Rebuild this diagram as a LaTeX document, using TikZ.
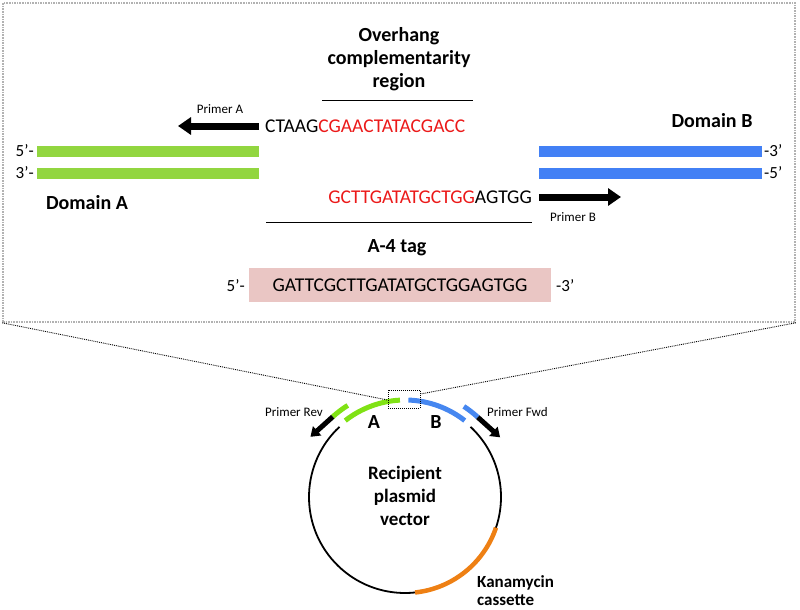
\documentclass[tikz,border=0pt]{standalone}
\usepackage{fontspec}
\setmainfont{Carlito}
\usetikzlibrary{arrows.meta,calc}
\definecolor{barGreen}{RGB}{146,214,64}
\definecolor{barBlue}{RGB}{66,128,245}
\definecolor{arcGreen}{RGB}{128,226,20}
\definecolor{arcBlue}{RGB}{70,135,240}
\definecolor{kanOrange}{RGB}{238,128,20}
\definecolor{seqRed}{RGB}{235,25,25}
\definecolor{tagPink}{RGB}{234,198,196}
\begin{document}
\begin{tikzpicture}[x=1pt,y=-1pt,
  bigbold/.style={font=\fontsize{20}{23}\selectfont\bfseries, align=center, inner sep=0pt},
  midbold/.style={font=\fontsize{17}{18}\selectfont\bfseries, align=left, inner sep=0pt},
  seq/.style={font=\fontsize{19.5}{22}\selectfont, inner sep=0pt},
  smalllbl/.style={font=\fontsize{13}{15}\selectfont, inner sep=0pt},
  endlbl/.style={font=\fontsize{17}{20}\selectfont, inner sep=0pt},
  greenbar/.style={fill=barGreen, minimum width=222pt, minimum height=11pt, inner sep=0pt},
  bluebar/.style={fill=barBlue, minimum width=223pt, minimum height=11pt, inner sep=0pt},
  fatarrow/.style={line width=7pt, -{Triangle[length=13pt 0 0, width=17pt 0 0]}},
  thinarrow/.style={line width=5pt, -{Triangle[length=9pt 0 0, width=12pt 0 0]}},
  ringarc/.style={line width=5pt},
  zoomline/.style={densely dotted, line width=0.9pt}
]
\useasboundingbox (0,0) rectangle (800,610);

% zoom box
\node[draw=gray!60, densely dotted, line width=1.6pt, minimum width=792pt, minimum height=319pt, inner sep=0pt] (zoombox) at (399,162.5) {};

% header
\node[bigbold] (overhang) at (399,59) {Overhang\\complementarity\\region};
\draw[line width=1pt] (322,100) -- (473,100);

% top sequence and primer A
\node[seq, anchor=west] (seqtop) at (265,126) {CTAAG\textcolor{seqRed}{CGAACTATACGACC}};
\coordinate (tipA) at (178,126);
\draw[fatarrow] ([xshift=-6pt]seqtop.west) -- (tipA);
\node[smalllbl] (primerA) at (220,109) {Primer A};

% domain B label
\node[bigbold] (domB) at (712,121) {Domain B};

% bars
\node[greenbar] (a1) at (148,151) {};
\node[greenbar] (a2) at (148,173) {};
\node[bluebar] (b1) at (650.5,151) {};
\node[bluebar] (b2) at (650.5,173) {};
\node[endlbl, anchor=east] (a1l) at (34,151) {5'-};
\node[endlbl, anchor=east] (a2l) at (34,173) {3'-};
\node[endlbl, anchor=west] (b1l) at (764,151) {-3'};
\node[endlbl, anchor=west] (b2l) at (764,173) {-5'};

\node[bigbold] (domA) at (87,203) {Domain A};

% bottom sequence and primer B
\node[seq, anchor=east] (seqbot) at (532,197) {\textcolor{seqRed}{GCTTGATATGCTGG}AGTGG};
\coordinate (tipB) at (621,197);
\draw[fatarrow] ([xshift=7pt]seqbot.east) -- (tipB);
\node[smalllbl] (primerB) at (573,217) {Primer B};
\draw[line width=1pt] (266,222) -- (532,222);

% A-4 tag
\node[bigbold] (a4) at (397,248) {A-4 tag};
\node[fill=tagPink, minimum width=302pt, minimum height=34pt, inner sep=0pt, seq] (tag) at (400,285) {GATTCGCTTGATATGCTGGAGTGG};
\node[endlbl, anchor=east] (tag5) at (245,286) {5'-};
\node[endlbl, anchor=west] (tag3) at (556,286) {-3'};

% plasmid
\coordinate (c) at (405,497);
\draw[line width=1.8pt] (c) ++(-133:96) arc[start angle=-133, end angle=-407, radius=96];
\draw[kanOrange, line width=4.5pt] (c) ++(84:96) arc[start angle=84, end angle=18.6, radius=96];
\draw[arcGreen, ringarc] (c) ++(-93:97) arc[start angle=-93, end angle=-128, radius=97];
\draw[arcBlue, ringarc] (c) ++(-88:97) arc[start angle=-88, end angle=-52, radius=97];
% primer segments
\draw[arcGreen, ringarc] (c) ++(-122:108) arc[start angle=-122, end angle=-132, radius=108];
\draw[arcBlue, ringarc] (c) ++(-57:108) arc[start angle=-57, end angle=-47.6, radius=108];
\coordinate (revstart) at ($(c)+(-132:108)$);
\coordinate (revtip) at ($(revstart)+(138:30)$);
\draw[thinarrow] (revstart) -- (revtip);
\coordinate (fwdstart) at ($(c)+(-47.6:108)$);
\coordinate (fwdtip) at ($(fwdstart)+(42:30)$);
\draw[thinarrow] (fwdstart) -- (fwdtip);

\node[bigbold] (labA) at (374,422) {A};
\node[bigbold] (labB) at (436,422) {B};
\node[smalllbl, anchor=east] (prev) at (323,412) {Primer Rev};
\node[smalllbl, anchor=west] (pfwd) at (487,412) {Primer Fwd};
\node[font=\fontsize{19}{23}\selectfont\bfseries, align=center, inner sep=0pt] (recip) at (405,496) {Recipient\\plasmid\\vector};
\node[midbold, anchor=north west] (kan) at (477,575) {Kanamycin\\cassette};

% small zoom box
\node[draw, densely dotted, line width=1pt, minimum width=32pt, minimum height=18pt, inner sep=0pt] (smallbox) at (404,399) {};
\draw[zoomline] (zoombox.south west) -- ([yshift=-1pt]smallbox.west);
\draw[zoomline] (zoombox.south east) -- ([yshift=5pt]smallbox.east);
\end{tikzpicture}
\end{document}
